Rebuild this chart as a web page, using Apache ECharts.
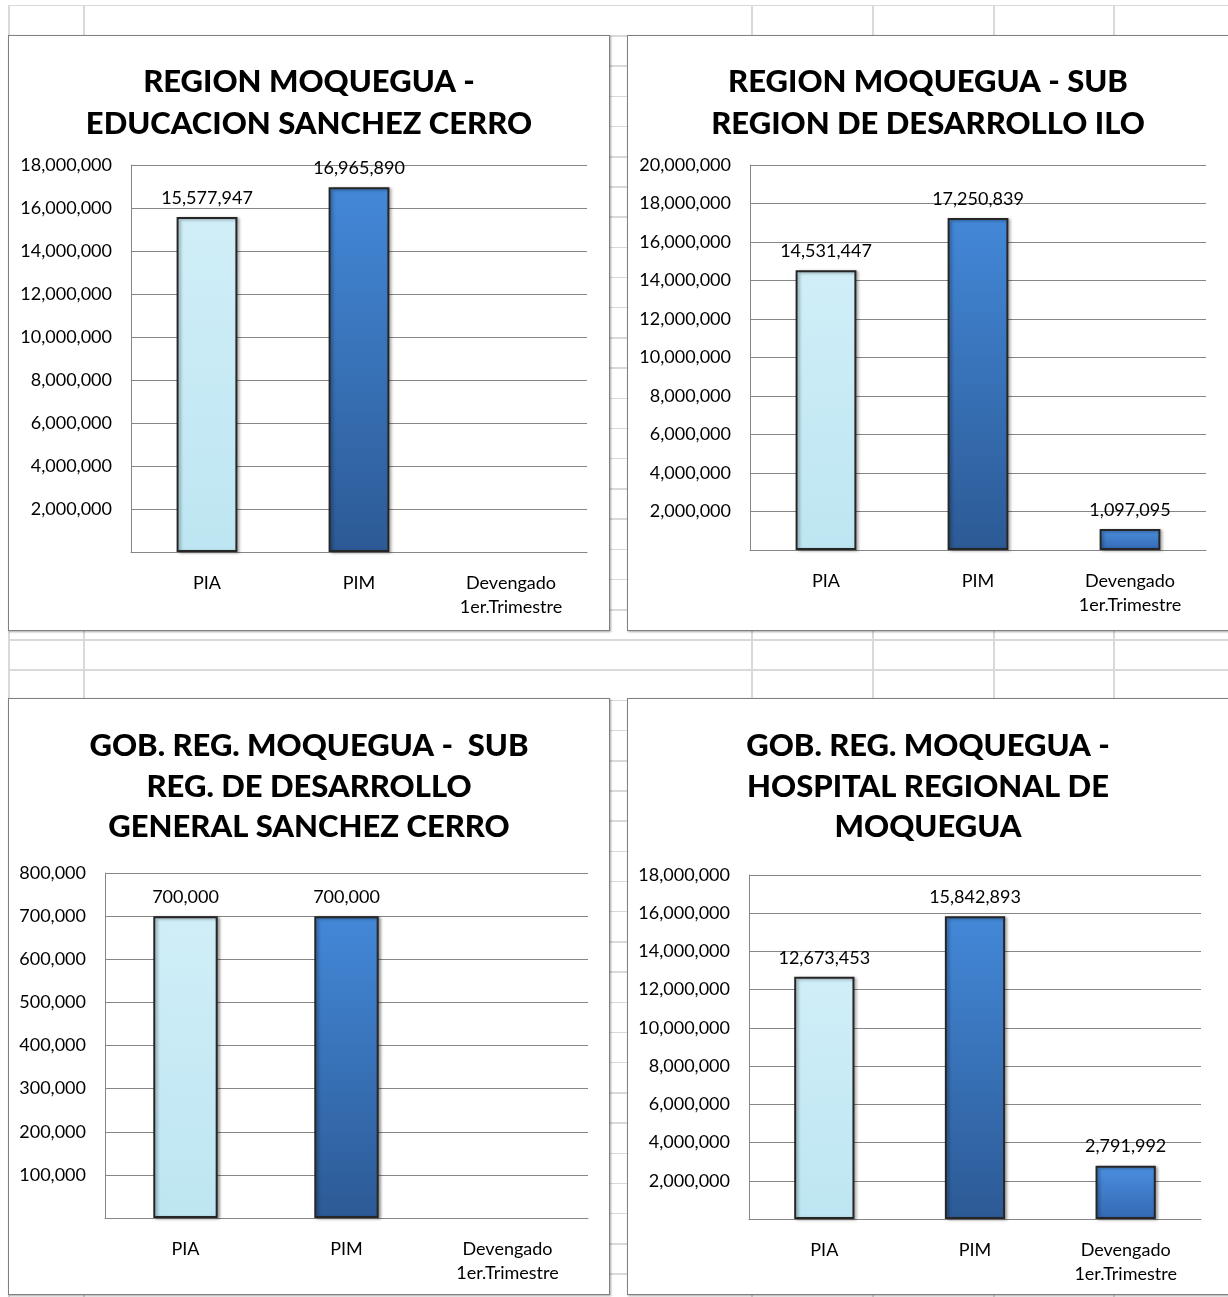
<!DOCTYPE html>
<html>
<head>
<meta charset="utf-8">
<script src="https://cdn.jsdelivr.net/npm/echarts@6/dist/echarts.min.js"></script>
<style>
  html, body { margin: 0; padding: 0; background: #fff; }
  #sheet { position: relative; width: 1228px; height: 1297px; overflow: hidden; }
  #rows {
    position: absolute; left: 8px; top: 5px; right: 0; bottom: 0;
    background-image: repeating-linear-gradient(to bottom, #d9d9d9 0, #d9d9d9 1.5px, transparent 1.5px, transparent 30.2px);
  }
  .col { position: absolute; top: 5px; bottom: 0; width: 1.5px; background: #d9d9d9; }
  .box {
    position: absolute; box-sizing: border-box; background: #fff;
    border: 1px solid #808080; box-shadow: 1px 1px 2px rgba(0, 0, 0, 0.35);
  }
</style>
</head>
<body>
<div id="sheet">
  <div id="rows"></div>
  <div class="col" style="left:8px"></div>
  <div class="col" style="left:83px"></div>
  <div class="col" style="left:751px"></div>
  <div class="col" style="left:872px"></div>
  <div class="col" style="left:993px"></div>
  <div class="col" style="left:1113px"></div>
  <div class="box" id="c1" style="left:8px; top:35px; width:602px; height:596px"></div>
  <div class="box" id="c2" style="left:627px; top:35px; width:602px; height:596px"></div>
  <div class="box" id="c3" style="left:8px; top:698px; width:602px; height:597px"></div>
  <div class="box" id="c4" style="left:627px; top:698px; width:602px; height:597px"></div>
</div>
<script>
const categories = ["PIA", "PIM", "Devengado\n1er.Trimestre"];

const titleEducacion = "REGION MOQUEGUA -\nEDUCACION SANCHEZ CERRO";
const valuesEducacion = [15577947, 16965890, "-"];

const titleIlo = "REGION MOQUEGUA - SUB\nREGION DE DESARROLLO ILO";
const valuesIlo = [14531447, 17250839, 1097095];

const titleSanchezCerro = "GOB. REG. MOQUEGUA -  SUB\nREG. DE DESARROLLO\nGENERAL SANCHEZ CERRO";
const valuesSanchezCerro = [700000, 700000, "-"];

const titleHospital = "GOB. REG. MOQUEGUA -\nHOSPITAL REGIONAL DE\nMOQUEGUA";
const valuesHospital = [12673453, 15842893, 2791992];

const FONT = "Lato, 'Open Sans', sans-serif";
const GRID_COLOR = "#868686";

function gradient(top, bottom) {
  return new echarts.graphic.LinearGradient(0, 0, 0, 1, [
    { offset: 0, color: top },
    { offset: 1, color: bottom },
  ]);
}

// one look per category: light cyan, dark blue gradient, brighter blue
const barColors = [
  gradient("#d0eef8", "#bde6f2"),
  gradient("#4388d8", "#2c5a95"),
  gradient("#4b8fdf", "#3469b4"),
];

function fmt(v) {
  return Number(v).toLocaleString("en-US");
}

function makeChart(id, title, values, max, interval, layout) {
  const chart = echarts.init(document.getElementById(id), null, { renderer: "canvas" });
  chart.setOption({
    animation: false,
    title: {
      text: title,
      left: "center",
      top: layout.titleTop,
      textStyle: {
        fontFamily: FONT,
        fontWeight: 900,
        fontSize: 31,
        lineHeight: layout.titleLine,
        color: "#000",
      },
    },
    grid: layout.grid,
    xAxis: {
      type: "category",
      data: categories,
      axisLine: { lineStyle: { color: GRID_COLOR, width: 1 } },
      axisTick: { show: false },
      axisLabel: {
        margin: 19,
        fontFamily: FONT,
        fontSize: 18,
        lineHeight: 24,
        color: "#000",
        interval: 0,
      },
    },
    yAxis: {
      type: "value",
      min: 0,
      max: max,
      interval: interval,
      axisLine: { show: true, lineStyle: { color: GRID_COLOR, width: 1 } },
      axisTick: { show: false },
      splitLine: { lineStyle: { color: GRID_COLOR, width: 1 } },
      axisLabel: {
        showMinLabel: false,
        margin: 19,
        fontFamily: FONT,
        fontSize: 18,
        color: "#000",
        formatter: fmt,
      },
    },
    series: [
      {
        type: "bar",
        barWidth: "40%",
        data: values.map((v, i) => ({
          value: v,
          itemStyle: {
            color: barColors[i],
            borderColor: "#262626",
            borderWidth: 2,
            shadowColor: "rgba(0,0,0,0.35)",
            shadowBlur: 3,
            shadowOffsetX: 2,
            shadowOffsetY: 1,
          },
        })),
        label: {
          show: true,
          position: "top",
          distance: 10,
          fontFamily: FONT,
          fontSize: 18,
          color: "#000",
          formatter: (p) => fmt(p.value),
        },
      },
    ],
  });
  return chart;
}

makeChart("c1", titleEducacion, valuesEducacion, 18000000, 2000000, {
  titleTop: 20,
  titleLine: 42,
  grid: { left: 122, right: 22, top: 129, bottom: 78 },
});
makeChart("c2", titleIlo, valuesIlo, 20000000, 2000000, {
  titleTop: 20,
  titleLine: 42,
  grid: { left: 122, right: 22, top: 129, bottom: 80 },
});
makeChart("c3", titleSanchezCerro, valuesSanchezCerro, 800000, 100000, {
  titleTop: 22,
  titleLine: 40.5,
  grid: { left: 96, right: 21, top: 174, bottom: 76 },
});
makeChart("c4", titleHospital, valuesHospital, 18000000, 2000000, {
  titleTop: 22,
  titleLine: 40.5,
  grid: { left: 121, right: 27, top: 176, bottom: 75 },
});
</script>
</body>
</html>
